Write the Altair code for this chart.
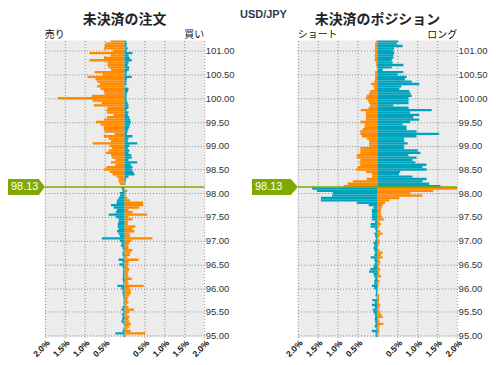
import altair as alt
import pandas as pd

ORANGE = "#ff8a00"
TEAL = "#00a3bd"
GREEN = "#80a800"
CURRENT = 98.13

# price levels from top (101.20) to bottom (95.00), step 0.05
price_levels = [round(101.20 - 0.05 * k, 2) for k in range(125)]

# Open orders (left panel): orange / teal magnitudes (%), top to bottom
order_orange = [
    0.35, 0.48, 0.50, 0.52, 0.30, 0.88, 0.35, 0.52, 0.88, 0.43,
    0.43, 0.40, 0.34, 0.75, 0.55, 0.93, 0.73, 0.69, 0.62, 0.69,
    0.60, 0.52, 0.50, 0.82, 1.67, 0.80, 0.57, 0.77, 0.43, 0.46,
    0.44, 0.28, 0.44, 0.52, 0.72, 0.60, 0.52, 0.52, 0.50, 0.25,
    0.52, 0.40, 0.34, 0.80, 0.37, 0.31, 0.40, 0.47, 0.34, 0.31,
    0.23, 0.34, 0.23, 0.45, 0.52, 0.37, 0.30, 0.20, 0.15, 0.15,
    0.12, 0.00, 0.00, 0.07, 0.03, 0.03, 0.07, 0.14, 0.47, 0.47,
    0.37, 0.10, 0.20, 0.57, 0.10, 0.20, 0.08, 0.08, 0.27, 0.20,
    0.25, 0.12, 0.14, 0.70, 0.17, 0.12, 0.10, 0.10, 0.20, 0.15,
    0.13, 0.07, 0.35, 0.10, 0.10, 0.08, 0.12, 0.10, 0.08, 0.10,
    0.18, 0.08, 0.10, 0.48, 0.12, 0.16, 0.16, 0.12, 0.08, 0.07,
    0.10, 0.05, 0.10, 0.24, 0.12, 0.07, 0.12, 0.10, 0.12, 0.16,
    0.12, 0.07, 0.15, 0.52, 0.03,
]
order_teal = [
    0.04, 0.06, 0.05, 0.08, 0.05, 0.20, 0.10, 0.13, 0.18, 0.10,
    0.08, 0.12, 0.11, 0.06, 0.05, 0.18, 0.06, 0.05, 0.05, 0.02,
    0.10, 0.09, 0.06, 0.05, 0.05, 0.06, 0.08, 0.10, 0.10, 0.05,
    0.10, 0.08, 0.12, 0.14, 0.16, 0.14, 0.12, 0.10, 0.08, 0.06,
    0.20, 0.10, 0.08, 0.32, 0.12, 0.08, 0.12, 0.10, 0.17, 0.18,
    0.10, 0.32, 0.16, 0.20, 0.18, 0.22, 0.25, 0.10, 0.04, 0.03,
    0.02, 0.00, 0.07, 0.05, 0.12, 0.11, 0.15, 0.19, 0.20, 0.34,
    0.27, 0.19, 0.22, 0.40, 0.22, 0.15, 0.15, 0.17, 0.17, 0.15,
    0.19, 0.15, 0.12, 0.57, 0.12, 0.07, 0.09, 0.05, 0.03, 0.05,
    0.05, 0.03, 0.15, 0.05, 0.13, 0.05, 0.03, 0.04, 0.04, 0.04,
    0.05, 0.04, 0.03, 0.18, 0.08, 0.05, 0.05, 0.04, 0.03, 0.02,
    0.03, 0.02, 0.05, 0.08, 0.03, 0.07, 0.05, 0.06, 0.08, 0.03,
    0.01, 0.03, 0.05, 0.23, 0.03,
]

# Open positions (right panel)
pos_orange = [
    0.04, 0.06, 0.06, 0.06, 0.07, 0.06, 0.07, 0.06, 0.07, 0.04,
    0.04, 0.02, 0.00, 0.06, 0.06, 0.06, 0.06, 0.08, 0.16, 0.10,
    0.08, 0.18, 0.21, 0.27, 0.29, 0.24, 0.21, 0.18, 0.22, 0.42,
    0.29, 0.29, 0.29, 0.29, 0.43, 0.32, 0.32, 0.37, 0.43, 0.43,
    0.39, 0.27, 0.21, 0.21, 0.21, 0.43, 0.43, 0.43, 0.52, 0.52,
    0.43, 0.45, 0.43, 0.50, 0.53, 0.29, 0.14, 0.14, 0.27, 0.62,
    0.75, 0.85, 2.05, 1.40, 0.83, 1.13, 0.55, 0.30, 0.19, 0.13,
    0.11, 0.09, 0.08, 0.09, 0.11, 0.16, 0.05, 0.09, 0.05, 0.01,
    0.07, 0.13, 0.05, 0.03, 0.05, 0.05, 0.03, 0.01, 0.05, 0.13,
    0.09, 0.13, 0.05, 0.07, 0.05, 0.03, 0.07, 0.05, 0.05, 0.09,
    0.01, 0.05, 0.03, 0.03, 0.01, 0.01, 0.00, 0.05, 0.04, 0.04,
    0.04, 0.07, 0.05, 0.03, 0.07, 0.10, 0.13, 0.03, 0.05, 0.15,
    0.05, 0.04, 0.05, 0.03, 0.02,
]
pos_teal = [
    0.52, 0.48, 0.63, 0.42, 0.40, 0.42, 0.40, 0.40, 0.36, 0.38,
    0.65, 0.36, 0.13, 0.65, 0.50, 0.73, 0.69, 0.86, 1.05, 0.60,
    0.55, 0.80, 0.83, 0.86, 0.78, 0.78, 0.78, 0.40, 0.78, 1.36,
    0.82, 1.05, 0.90, 1.05, 0.82, 0.63, 0.73, 0.73, 0.98, 1.55,
    0.98, 0.67, 0.67, 0.76, 0.67, 0.67, 1.01, 1.08, 0.78, 0.98,
    0.88, 0.95, 1.23, 1.13, 1.23, 0.57, 0.54, 0.88, 1.23, 1.13,
    1.30, 1.58, 1.64, 1.52, 1.12, 1.14, 1.42, 1.42, 0.52, 0.22,
    0.10, 0.14, 0.14, 0.14, 0.14, 0.14, 0.06, 0.17, 0.17, 0.06,
    0.04, 0.08, 0.06, 0.04, 0.06, 0.10, 0.08, 0.10, 0.08, 0.06,
    0.08, 0.17, 0.08, 0.06, 0.08, 0.10, 0.18, 0.21, 0.10, 0.08,
    0.06, 0.08, 0.08, 0.14, 0.08, 0.04, 0.04, 0.05, 0.02, 0.13,
    0.07, 0.14, 0.07, 0.12, 0.10, 0.07, 0.06, 0.07, 0.06, 0.05,
    0.07, 0.03, 0.14, 0.05, 0.05,
]

x_ticks = [-2.0, -1.5, -1.0, -0.5, 0.5, 1.0, 1.5, 2.0]
y_ticks = [95.0, 95.5, 96.0, 96.5, 97.0, 97.5, 98.0, 98.5, 99.0, 99.5, 100.0, 100.5, 101.0]


def make_df(orange, teal):
    rows = []
    for p, o, t in zip(price_levels, orange, teal):
        side = -1 if p > CURRENT else 1
        rows.append({"lo": p - 0.025, "hi": p + 0.025, "v": side * o, "s": "a"})
        rows.append({"lo": p - 0.025, "hi": p + 0.025, "v": -side * t, "s": "b"})
    return pd.DataFrame(rows)


def panel(df, title, left_txt, right_txt, box_path, text_dx):
    xscale = alt.Scale(domain=[-2, 2], nice=False, zero=False)
    yscale = alt.Scale(domain=[94.965, 101.215], nice=False, zero=False)
    xaxis = alt.Axis(values=x_ticks, tickCount=20,
                     labelExpr="format(abs(datum.value), '.1f') + '%'",
                     labelAngle=-45, title=None, grid=True, gridDash=[1, 2],
                     gridColor="#8a8a8a", domain=False, ticks=False,
                     labelFontSize=8.5, labelFont="Liberation Sans",
                     labelFontWeight="bold", labelOverlap=False,
                     labelColor="#111", labelPadding=1)
    yaxis = alt.Axis(orient="right", values=y_ticks, tickCount=30, format=".2f", title=None,
                     grid=True, gridDash=[1, 2], gridColor="#8a8a8a",
                     domain=False, ticks=False, labelFontSize=9.5,
                     labelOverlap=False, labelFont="Liberation Sans",
                     labelColor="#333", labelPadding=1)
    bars = alt.Chart(df).mark_rect(clip=True).encode(
        x=alt.X("v:Q", scale=xscale, axis=xaxis),
        x2=alt.datum(0),
        y=alt.Y("lo:Q", scale=yscale, axis=yaxis),
        y2="hi:Q",
        color=alt.Color("s:N", scale=alt.Scale(domain=["a", "b"], range=[ORANGE, TEAL]), legend=None),
    )
    cur = pd.DataFrame({"p": [CURRENT]})
    rule = alt.Chart(cur).mark_rule(color=GREEN, strokeWidth=1.5).encode(y="p:Q")
    marker = alt.Chart(cur).mark_point(shape=box_path, size=400, filled=True,
                                       color=GREEN, opacity=1, strokeWidth=0).encode(
        x=alt.datum(-2), y="p:Q")
    label = alt.Chart(cur).mark_text(color="white", fontSize=11, align="left",
                                     baseline="middle", dx=text_dx,
                                     font="Liberation Sans").encode(
        x=alt.datum(-2), y="p:Q", text=alt.Text("p:Q", format=".2f"))
    lt = alt.Chart(pd.DataFrame({"t": [left_txt]})).mark_text(
        align="left", baseline="alphabetic", dy=-3, fontSize=10,
        font="Noto Sans CJK JP", color="#111").encode(
        x=alt.datum(-2), y=alt.datum(101.215), text="t:N")
    rt = alt.Chart(pd.DataFrame({"t": [right_txt]})).mark_text(
        align="right", baseline="alphabetic", dy=-3, fontSize=10,
        font="Noto Sans CJK JP", color="#111").encode(
        x=alt.datum(2), y=alt.datum(101.215), text="t:N")
    return alt.layer(bars, rule, marker, label, lt, rt).properties(
        width=160, height=298,
        title=alt.TitleParams(title, font="Noto Sans CJK JP", fontSize=14,
                              fontWeight="bold", color="#222", anchor="middle",
                              frame="group", offset=3))


left = panel(make_df(order_orange, order_teal), "未決済の注文", "売り", "買い",
             "M-3.7,-0.8L-0.6,-0.8L0,0L-0.6,0.8L-3.7,0.8Z", -34)
right = panel(make_df(pos_orange, pos_teal), "未決済のポジション", "ショート", "ロング",
              "M-4.6,-0.8L-0.7,-0.8L0,0L-0.7,0.8L-4.6,0.8Z", -43)

chart = alt.hconcat(left, right, spacing=17).properties(
    padding=0,
    title=alt.TitleParams("USD/JPY", fontSize=11, fontWeight="bold",
                          font="Liberation Sans", color="#2b3a55",
                          anchor="middle", offset=-7, dx=16),
).configure_view(fill="#ececec", strokeWidth=0).configure_axis(labelOverlap=False)

chart.save("out.html", embed_options={"renderer": "svg", "actions": False})
